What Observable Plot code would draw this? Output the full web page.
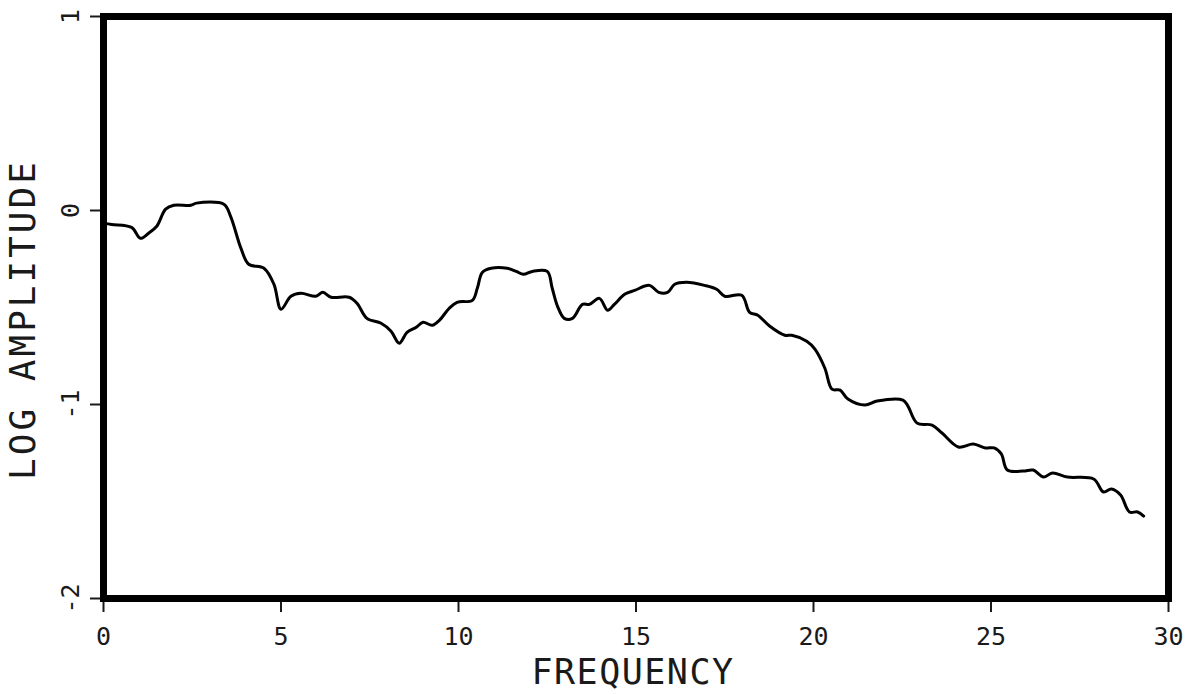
<!DOCTYPE html>
<html>
<head>
<meta charset="utf-8">
<script src="https://cdn.jsdelivr.net/npm/d3@7"></script>
<script src="https://cdn.jsdelivr.net/npm/@observablehq/plot@0.6"></script>
<style>
  html, body { margin: 0; padding: 0; background: #fff; }
  #chart svg { display: block; }
</style>
</head>
<body>
<div id="chart"></div>
<script>
const frequency = [0, 0.23, 0.79, 1.04, 1.27, 1.50, 1.75, 1.98, 2.46, 2.62, 3.39, 3.58, 3.87, 4.09, 4.52, 4.80, 5.00, 5.28, 5.56, 5.98, 6.18, 6.41, 6.92, 7.14, 7.42, 7.82, 8.10, 8.33, 8.55, 8.81, 9.00, 9.26, 9.46, 9.74, 9.96, 10.39, 10.53, 10.67, 10.92, 11.37, 11.63, 11.83, 12.08, 12.50, 12.64, 12.79, 12.98, 13.21, 13.49, 13.69, 13.97, 14.20, 14.39, 14.68, 14.96, 15.38, 15.64, 15.89, 16.09, 16.43, 16.93, 17.27, 17.50, 17.98, 18.20, 18.43, 18.77, 19.19, 19.39, 19.81, 20.04, 20.32, 20.52, 20.75, 20.97, 21.45, 21.79, 22.52, 22.66, 22.92, 23.34, 23.62, 24.08, 24.50, 24.84, 25.09, 25.29, 25.46, 25.91, 26.19, 26.48, 26.73, 27.15, 27.89, 28.17, 28.39, 28.65, 28.90, 29.13, 29.30];
const logAmplitude = [-0.065, -0.072, -0.087, -0.143, -0.117, -0.081, 0.007, 0.027, 0.027, 0.038, 0.032, -0.030, -0.194, -0.277, -0.298, -0.380, -0.509, -0.442, -0.427, -0.442, -0.422, -0.447, -0.447, -0.478, -0.556, -0.581, -0.622, -0.684, -0.628, -0.602, -0.576, -0.592, -0.566, -0.504, -0.473, -0.463, -0.401, -0.319, -0.298, -0.298, -0.314, -0.329, -0.314, -0.314, -0.401, -0.494, -0.556, -0.556, -0.484, -0.484, -0.453, -0.514, -0.484, -0.432, -0.412, -0.386, -0.422, -0.422, -0.380, -0.370, -0.386, -0.406, -0.442, -0.437, -0.525, -0.540, -0.597, -0.643, -0.643, -0.674, -0.715, -0.813, -0.921, -0.926, -0.972, -1.003, -0.982, -0.977, -1.008, -1.096, -1.106, -1.147, -1.219, -1.204, -1.224, -1.224, -1.255, -1.338, -1.343, -1.338, -1.374, -1.353, -1.374, -1.384, -1.451, -1.436, -1.467, -1.554, -1.554, -1.575];
const xTicks = [0, 5, 10, 15, 20, 25, 30];
const yTicks = [-2, -1, 0, 1];
const xLabel = "FREQUENCY";
const yLabel = "LOG AMPLITUDE";

const data = frequency.map((f, i) => ({f, a: logAmplitude[i]}));
const font = "'DejaVu Sans Mono', 'Liberation Mono', monospace";
const ink = "#1a1a1a";

const chart = Plot.plot({
  width: 1189,
  height: 694,
  marginLeft: 103,
  marginRight: 21,
  marginTop: 16,
  marginBottom: 96,
  x: {domain: [0, 30]},
  y: {domain: [-2, 1]},
  style: {fontFamily: font, color: ink, background: "#fff"},
  marks: [
    Plot.axisX({ticks: xTicks, tickSize: 14, label: null, tickFormat: () => "", strokeWidth: 2, stroke: ink}),
    Plot.axisY({ticks: yTicks, tickSize: 13, label: null, tickFormat: () => "", strokeWidth: 2, stroke: ink}),
    Plot.text(xTicks, {x: d => d, text: d => String(d), frameAnchor: "bottom", lineAnchor: "top", textAnchor: "middle", dy: 29, fontSize: 25, fill: ink, ariaLabel: "x-tick-label"}),
    Plot.text(yTicks, {y: d => d, text: d => String(d), frameAnchor: "left", lineAnchor: "middle", textAnchor: "middle", rotate: d => -90, dx: -33, fontSize: 25, fill: ink, ariaLabel: "y-tick-label"}),
    Plot.line(data, {x: "f", y: "a", stroke: "#000", strokeWidth: 3, curve: "catmull-rom"}),
    Plot.frame({stroke: "#000", strokeWidth: 7}),
    Plot.text([xLabel], {frameAnchor: "bottom", lineAnchor: "middle", textAnchor: "middle", dy: 74, dx: -3, fontSize: 35, text: d => d, fill: ink}),
    Plot.text([yLabel], {frameAnchor: "left", lineAnchor: "middle", textAnchor: "middle", dx: -80, dy: 12, rotate: -90, fontSize: 36, text: d => d, fill: ink})
  ]
});
const svg = d3.select(chart);
svg.selectAll("text").filter(function() { return this.textContent === yLabel; })
  .style("letter-spacing", "3px");
svg.selectAll("text").filter(function() { return this.textContent === xLabel; })
  .style("letter-spacing", "1.5px");
// make sure the y tick labels are turned like the reference
const yStr = yTicks.map(String);
svg.selectAll("text").each(function() {
  const t = this.getAttribute("transform") || "";
  const m = /translate\(\s*([-\d.]+)\s*,\s*([-\d.]+)\s*\)/.exec(t);
  if (!m || !yStr.includes(this.textContent)) return;
  const px = +m[1], py = +m[2];
  const isYTick = Math.abs(px - 103) < 1 && !(this.textContent === "0" && Math.abs(py - 598) < 1 && this.closest("g") && (this.closest("g").getAttribute("aria-label") || "").includes("x"));
  if (isYTick && !/rotate/.test(t)) this.setAttribute("transform", t + " rotate(-90)");
});
document.getElementById("chart").appendChild(chart);
</script>
</body>
</html>
